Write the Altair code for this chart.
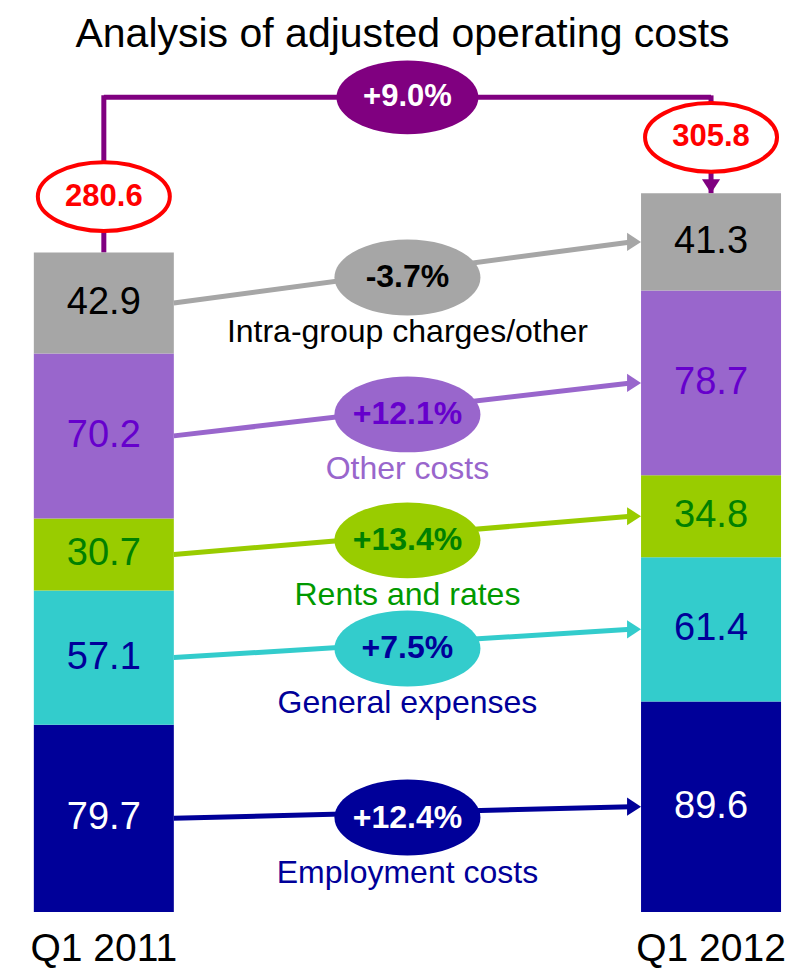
import altair as alt
import pandas as pd

# ---------------- data ----------------
periods = ["Q1 2011", "Q1 2012"]
categories = ["Employment costs", "General expenses", "Rents and rates",
              "Other costs", "Intra-group charges/other"]
values_2011 = [79.7, 57.1, 30.7, 70.2, 42.9]
values_2012 = [89.6, 61.4, 34.8, 78.7, 41.3]
changes = ["+12.4%", "+7.5%", "+13.4%", "+12.1%", "-3.7%"]
totals = [280.6, 305.8]
total_change = "+9.0%"
title_text = "Analysis of adjusted operating costs"

# ---------------- styles ----------------
bar_colors = ["#000099", "#33cccc", "#99cc00", "#9966cc", "#a6a6a6"]
value_text_colors = ["#ffffff", "#000099", "#008000", "#6600cc", "#000000"]
label_colors = ["#000099", "#000099", "#009900", "#9966cc", "#000000"]
bracket_color = "#800080"
total_color = "#ff0000"
FONT = "Liberation Sans"

W, H = 789, 912
PAD_TOP = 52
x_scale = alt.Scale(domain=[-92 / 615, (W - 92) / 615], nice=False, zero=False)
px_per_unit = 2.35
y_scale = alt.Scale(domain=[-(H - 852) / px_per_unit, 852 / px_per_unit], nice=False, zero=False)

ELLIPSE = "M-1,0 A1,0.52 0 1,1 1,0 A1,0.52 0 1,1 -1,0 Z"
ARROW_RIGHT = "M-1,-1.3 L1,0 L-1,1.3 Z"
ARROW_DOWN = "M-1.3,-1 L1.3,-1 L0,1 Z"

# ---------------- tables ----------------
rows = []
for i, (p, vals) in enumerate(zip(periods, [values_2011, values_2012])):
    base = 0.0
    for c, v in zip(categories, vals):
        rows.append(dict(period=p, pos=i, category=c, value=v, y0=base,
                         y1=base + v, mid=base + v / 2, label=f"{v:.1f}"))
        base += v
seg = pd.DataFrame(rows)

conn = pd.DataFrame({
    "category": categories,
    "change": changes,
    "x0": 0, "x1": 1, "xm": 0.5,
    "ya": seg[seg.pos == 0].mid.values,
    "yb": seg[seg.pos == 1].mid.values,
})
conn["ym"] = (conn.ya + conn.yb) / 2

tot = pd.DataFrame({"pos": [0, 1], "period": periods, "total": totals,
                    "label": [f"{t:.1f}" for t in totals]})
tot["top"] = max(totals)
brk = pd.DataFrame({"x0": [0], "x1": [1], "xm": [0.5], "top": [max(totals)],
                    "change": [total_change]})


def cat_color(rng):
    return alt.Color("category:N", scale=alt.Scale(domain=categories, range=rng), legend=None)


X = lambda f: alt.X(f, scale=x_scale, axis=None)
Y = lambda f: alt.Y(f, scale=y_scale, axis=None)

BR_OFF = -96
TOT_OFF = -56
ELL_OFF = 5

# bracket lines
bracket_h = alt.Chart(brk).mark_rule(color=bracket_color, strokeWidth=5,
                                     yOffset=BR_OFF, y2Offset=BR_OFF).encode(
    x=X("x0:Q"), x2="x1:Q", y=Y("top:Q"), y2="top:Q")
bracket_v = alt.Chart(tot).mark_rule(color=bracket_color, strokeWidth=5,
                                     yOffset=BR_OFF - 2).encode(
    x=X("pos:Q"), y=Y("top:Q"), y2="total:Q")
arrow_down = alt.Chart(tot).transform_filter("datum.pos == 1").mark_point(
    shape=ARROW_DOWN, filled=True, size=196, opacity=1, color=bracket_color,
    yOffset=-7).encode(x=X("pos:Q"), y=Y("total:Q"))

tot_ell = alt.Chart(tot).mark_point(
    shape=ELLIPSE, size=132 ** 2, fill="white", stroke=total_color, strokeWidth=4,
    opacity=1, fillOpacity=1, strokeOpacity=1, yOffset=TOT_OFF).encode(
    x=X("pos:Q"), y=Y("total:Q"))
tot_txt = alt.Chart(tot).mark_text(
    font=FONT, fontSize=31, fontWeight="bold", color=total_color,
    baseline="middle", yOffset=TOT_OFF).encode(
    x=X("pos:Q"), y=Y("total:Q"), text="label:N")

brk_ell = alt.Chart(brk).mark_point(
    shape=ELLIPSE, size=142 ** 2, filled=True, opacity=1, color=bracket_color,
    yOffset=BR_OFF).encode(x=X("xm:Q"), y=Y("top:Q"))
brk_txt = alt.Chart(brk).mark_text(
    font=FONT, fontSize=31, fontWeight="bold", color="white",
    baseline="middle", yOffset=BR_OFF).encode(
    x=X("xm:Q"), y=Y("top:Q"), text="change:N")

bars = alt.Chart(seg).mark_bar(size=140, orient="vertical").encode(
    x=X("pos:Q"), y=Y("y0:Q"), y2="y1:Q", color=cat_color(bar_colors))
bar_txt = alt.Chart(seg).mark_text(font=FONT, fontSize=38, baseline="middle").encode(
    x=X("pos:Q"), y=Y("mid:Q"), text="label:N", color=cat_color(value_text_colors))

conn_line = alt.Chart(conn).mark_rule(strokeWidth=5, xOffset=70, x2Offset=-80).encode(
    x=X("x0:Q"), x2="x1:Q", y=Y("ya:Q"), y2="yb:Q", color=cat_color(bar_colors))
conn_head = alt.Chart(conn).mark_point(shape=ARROW_RIGHT, filled=True, size=196,
                                       opacity=1, xOffset=-77).encode(
    x=X("x1:Q"), y=Y("yb:Q"), color=cat_color(bar_colors))
conn_ell = alt.Chart(conn).mark_point(shape=ELLIPSE, filled=True, size=146 ** 2,
                                      opacity=1, yOffset=ELL_OFF).encode(
    x=X("xm:Q"), y=Y("ym:Q"), color=cat_color(bar_colors))
conn_txt = alt.Chart(conn).mark_text(font=FONT, fontSize=32, fontWeight="bold",
                                     baseline="middle", yOffset=ELL_OFF).encode(
    x=X("xm:Q"), y=Y("ym:Q"), text="change:N", color=cat_color(value_text_colors))
conn_lbl = alt.Chart(conn).mark_text(font=FONT, fontSize=32, baseline="middle",
                                     yOffset=ELL_OFF + 55).encode(
    x=X("xm:Q"), y=Y("ym:Q"), text="category:N", color=cat_color(label_colors))

per_lbl = alt.Chart(tot).mark_text(font=FONT, fontSize=39, baseline="middle",
                                   color="black", dy=37).encode(
    x=X("pos:Q"), y=alt.Y("zero:Q", scale=y_scale, axis=None), text="period:N"
).transform_calculate(zero="0")

chart = alt.layer(
    bracket_h, bracket_v, arrow_down, tot_ell, tot_txt, brk_ell, brk_txt,
    bars, bar_txt, conn_line, conn_head, conn_ell, conn_txt, conn_lbl, per_lbl
).resolve_scale(color="independent").properties(
    width=W, height=H,
    title=alt.TitleParams(title_text, font=FONT, fontSize=41, fontWeight="normal",
                          color="black", anchor="middle", offset=4),
    autosize=alt.AutoSizeParams(type="none"),
    padding={"left": 0, "right": 0, "top": PAD_TOP, "bottom": 0},
).configure_view(stroke=None)

chart.save("out.html", embed_options={"renderer": "svg", "actions": False})
